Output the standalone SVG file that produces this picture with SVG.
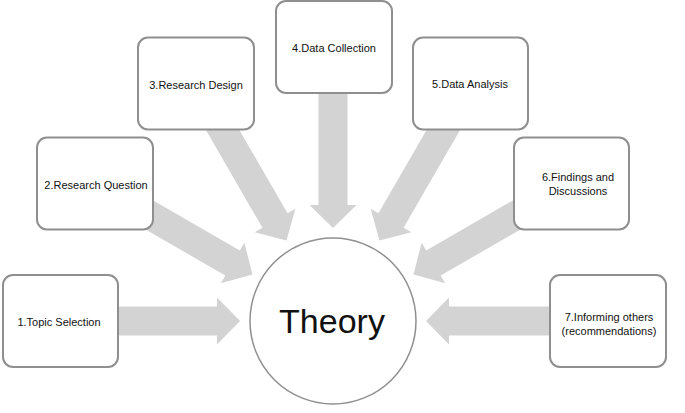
<svg xmlns="http://www.w3.org/2000/svg" xmlns:xlink="http://www.w3.org/1999/xlink" width="685" height="413" viewBox="0 0 685 413">
<style>
.box{fill:#fff;stroke:#8f8f8f;stroke-width:2}
.arr{fill:#d3d3d3;stroke:none}
.lbl{font-family:"Liberation Sans",Arial,sans-serif;font-size:11px;fill:#111;text-anchor:middle}
.big{font-family:"Liberation Sans",Arial,sans-serif;font-size:34px;fill:#111;text-anchor:middle}
</style>
<defs>
<path id="arrow" d="M-182,-14.5 H-23 V-23.5 L0,0 L-23,23.5 V14.5 H-182 Z"/>
</defs>
<rect width="685" height="413" fill="#fff"/>
<g id="connectors" class="arr">
<use xlink:href="#arrow" href="#arrow" transform="translate(240,321) rotate(0)"/>
<use xlink:href="#arrow" href="#arrow" transform="translate(252.5,274.5) rotate(30)"/>
<use xlink:href="#arrow" href="#arrow" transform="translate(286.5,240.5) rotate(60)"/>
<use xlink:href="#arrow" href="#arrow" transform="translate(333,228) rotate(90)"/>
<use xlink:href="#arrow" href="#arrow" transform="translate(379.5,240.5) rotate(120)"/>
<use xlink:href="#arrow" href="#arrow" transform="translate(413.5,274.5) rotate(150)"/>
<use xlink:href="#arrow" href="#arrow" transform="translate(426,321) rotate(180)"/>
</g>
<g id="theory">
<circle cx="333" cy="321" r="83" fill="#fff" stroke="#8f8f8f" stroke-width="1.5"/>
<text class="big" x="332" y="333">Theory</text>
</g>
<g id="n1">
<rect class="box" x="3" y="275" width="115" height="92" rx="10"/>
<text class="lbl" x="59" y="326">1.Topic Selection</text>
</g>
<g id="n2">
<rect class="box" x="37" y="137.5" width="116" height="92" rx="10"/>
<text class="lbl" x="96" y="189">2.Research Question</text>
</g>
<g id="n3">
<rect class="box" x="138" y="37.5" width="116" height="92" rx="10"/>
<text class="lbl" x="196" y="89">3.Research Design</text>
</g>
<g id="n4">
<rect class="box" x="276" y="1" width="116" height="92" rx="10"/>
<text class="lbl" x="334" y="52">4.Data Collection</text>
</g>
<g id="n5">
<rect class="box" x="413" y="37.5" width="115" height="92" rx="10"/>
<text class="lbl" x="470" y="88">5.Data Analysis</text>
</g>
<g id="n6">
<rect class="box" x="514" y="137.5" width="115" height="92" rx="10"/>
<text class="lbl" x="578" y="181">6.Findings and</text>
<text class="lbl" x="578" y="195">Discussions</text>
</g>
<g id="n7">
<rect class="box" x="550" y="275" width="116" height="92" rx="10"/>
<text class="lbl" x="609" y="321">7.Informing others</text>
<text class="lbl" x="609" y="335">(recommendations)</text>
</g>
</svg>
